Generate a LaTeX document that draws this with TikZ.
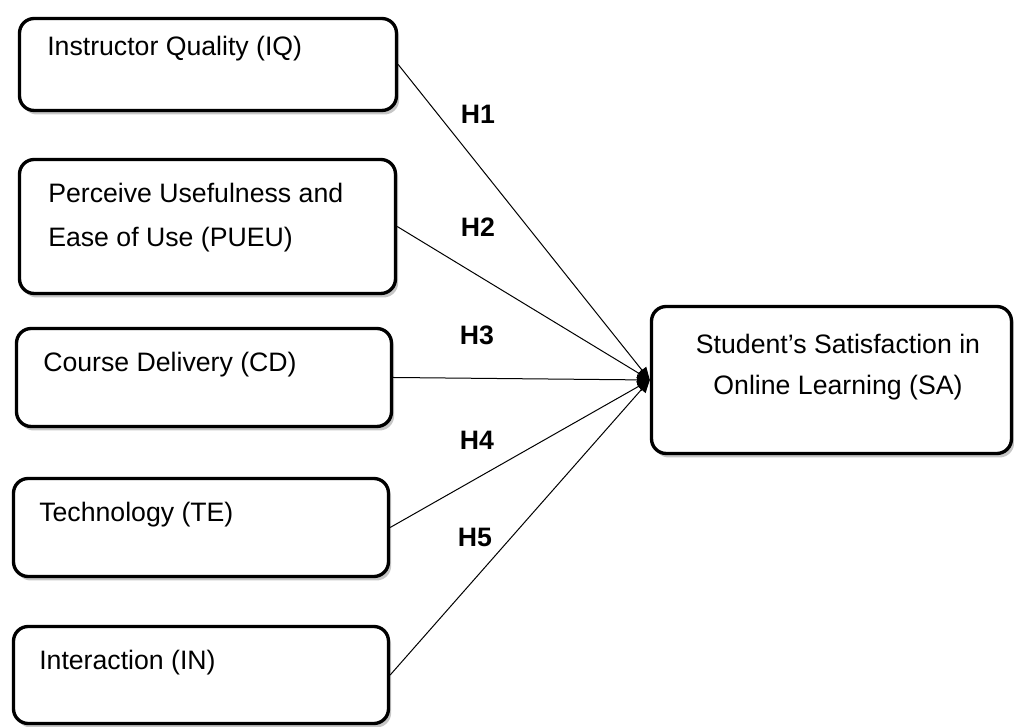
\documentclass[tikz,border=0pt]{standalone}
\usepackage{fontspec}
\setmainfont{Liberation Sans}
\usetikzlibrary{arrows.meta}
\usetikzlibrary{shadows}

\begin{document}
\begin{tikzpicture}[x = 0.75pt, y = 0.75pt]
	\tikzstyle{BoxStyle} = [draw, line width = 2.5pt, rounded corners = 11pt, fill = white, inner sep = 0pt, drop shadow = {shadow xshift = 2pt, shadow yshift = -3pt, opacity = 0.45}]
	\tikzstyle{TextStyle} = [anchor = base west, inner sep = 0pt, align = left, font = \fontsize{20}{33}\selectfont]
	\tikzstyle{HypStyle} = [inner sep = 0pt, font = \fontsize{20}{24}\selectfont\bfseries]
	\tikzstyle{PathStyle} = [line width = 0.75pt, -{Triangle[length = 9.5pt, width = 8pt]}]
	\useasboundingbox (0, 0) rectangle (1014, 727);
	\node[BoxStyle, minimum width = 282.75pt, minimum height = 69pt] (iq) at (208, 662.5) {};
	\node[BoxStyle, minimum width = 282pt, minimum height = 100.5pt] (pueu) at (207.5, 500.5) {};
	\node[BoxStyle, minimum width = 281.25pt, minimum height = 73.5pt] (cd) at (204, 349.5) {};
	\node[BoxStyle, minimum width = 281.25pt, minimum height = 73.5pt] (te) at (201, 199.5) {};
	\node[BoxStyle, minimum width = 281.25pt, minimum height = 72.75pt] (in) at (201, 52) {};
	\node[BoxStyle, minimum width = 270pt, minimum height = 110.25pt] (sa) at (831.5, 347) {};
	\node[TextStyle] (iqtext) at (47, 671) {Instructor Quality (IQ)};
	\node[TextStyle] (pueutext) at (48, 480) {Perceive Usefulness and\\Ease of Use (PUEU)};
	\node[TextStyle] (cdtext) at (43, 355) {Course Delivery (CD)};
	\node[TextStyle] (tetext) at (39, 205) {Technology (TE)};
	\node[TextStyle] (intext) at (39, 57) {Interaction (IN)};
	\node[TextStyle, anchor = base, align = center, font = \fontsize{20}{31}\selectfont] (satext) at (838, 332) {Student’s Satisfaction in\\Online Learning (SA)};
	\draw[PathStyle] (iq.east) -- (sa.west);
	\draw[PathStyle] (pueu.east) -- (sa.west);
	\draw[PathStyle] (cd.east) -- (sa.west);
	\draw[PathStyle] (te.east) -- (sa.west);
	\draw[PathStyle] (in.east) -- (sa.west);
	\node[HypStyle] (h1) at (478, 613) {H1};
	\node[HypStyle] (h2) at (478, 500) {H2};
	\node[HypStyle] (h3) at (477, 392) {H3};
	\node[HypStyle] (h4) at (477, 287) {H4};
	\node[HypStyle] (h5) at (475, 190) {H5};
\end{tikzpicture}
\end{document}
